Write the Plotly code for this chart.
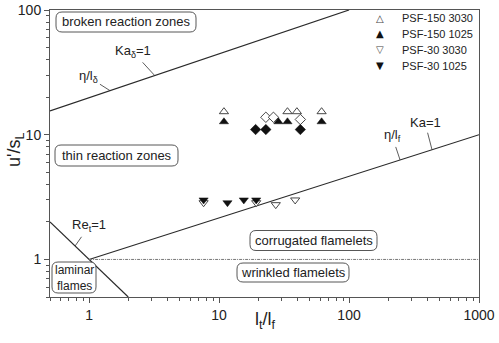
import plotly.graph_objects as go
import numpy as np

# ---------------- data ----------------
psf150_3030_x = [10.9, 33.6, 39.7, 61.5]
psf150_3030_y = [15.3, 15.3, 15.3, 15.3]
psf150_1025_x = [10.9, 28.6, 33.6, 61.5]
psf150_1025_y = [12.7, 12.7, 12.7, 12.7]
psf30_3030_x = [7.6, 19.3, 27.3, 38.5]
psf30_3030_y = [2.85, 2.85, 2.75, 3.0]
psf30_1025_x = [7.6, 11.6, 15.5, 19.3]
psf30_1025_y = [3.0, 2.85, 3.0, 3.0]
open_diamond_x = [22.9, 26.2, 42.2]
open_diamond_y = [13.8, 13.8, 13.25]
filled_diamond_x = [19.1, 22.9, 42.2]
filled_diamond_y = [11.0, 11.0, 11.0]

series_names = ["PSF-150 3030", "PSF-150 1025", "PSF-30 3030", "PSF-30 1025"]
series_glyphs = ["△", "▲", "▽", "▼"]

# regime boundary lines (end points)
ka_x = [1, 1000]
ka_y = [1, 10]
kad_x = [0.5, 100]
kad_y = [15.5, 100]
re_x = [0.5, 2]
re_y = [2, 0.5]
wr_x = [1, 1000]
wr_y = [1, 1]

x_tickvals = [1, 10, 100, 1000]
x_ticktext = ["1", "10", "100", "1000"]
y_tickvals = [1, 10, 100]
y_ticktext = ["1", "10", "100"]

FONT = "Liberation Sans, Arial, sans-serif"
INK = "#222222"
AX = "#555555"

def on_line(lx, ly, x):
    lx = np.log10(lx); ly = np.log10(ly)
    t = (np.log10(x) - lx[0]) / (lx[1] - lx[0])
    return ly[0] + t * (ly[1] - ly[0])

fig = go.Figure()

line_style = dict(color="#2a2a2a", width=1.2)
fig.add_trace(go.Scatter(x=ka_x, y=ka_y, mode="lines", line=line_style, showlegend=False, hoverinfo="skip"))
fig.add_trace(go.Scatter(x=kad_x, y=kad_y, mode="lines", line=line_style, showlegend=False, hoverinfo="skip"))
fig.add_trace(go.Scatter(x=re_x, y=re_y, mode="lines", line=line_style, showlegend=False, hoverinfo="skip"))
fig.add_trace(go.Scatter(x=wr_x, y=wr_y, mode="lines",
                         line=dict(color="#777777", width=1, dash="3px,1px,1px,1px"),
                         showlegend=False, hoverinfo="skip"))

ms = 8
open_m = lambda sym: dict(symbol=sym, size=ms, color="white", line=dict(color="#333333", width=0.9))
fill_m = lambda sym: dict(symbol=sym, size=ms, color="#111111", line=dict(color="#111111", width=0.5))

fig.add_trace(go.Scatter(x=psf30_3030_x, y=psf30_3030_y, mode="markers", marker=open_m("triangle-down"),
                         name=series_names[2], showlegend=False))
fig.add_trace(go.Scatter(x=psf30_1025_x, y=psf30_1025_y, mode="markers", marker=fill_m("triangle-down"),
                         name=series_names[3], showlegend=False))
fig.add_trace(go.Scatter(x=open_diamond_x, y=open_diamond_y, mode="markers", marker=open_m("diamond"),
                         showlegend=False))
fig.add_trace(go.Scatter(x=filled_diamond_x, y=filled_diamond_y, mode="markers", marker=fill_m("diamond"),
                         showlegend=False))
fig.add_trace(go.Scatter(x=psf150_3030_x, y=psf150_3030_y, mode="markers", marker=open_m("triangle-up"),
                         name=series_names[0], showlegend=False))
fig.add_trace(go.Scatter(x=psf150_1025_x, y=psf150_1025_y, mode="markers", marker=fill_m("triangle-up"),
                         name=series_names[1], showlegend=False))

# ---------- plot-area geometry (pixels) ----------
W, H = 499, 343
L, R, T, B = 50, 20, 10, 46
pw, ph = W - L - R, H - T - B

def px2paper(X, Y):
    return (X - L) / pw, (H - B - Y) / ph

# regime label boxes: (text, center X, center Y, width, height)
boxes = [
    ("broken reaction zones", 126, 22, 140, 20),
    ("thin reaction zones", 116.5, 155.5, 123, 21),
    ("laminar<br>flames", 74, 277.5, 44, 31),
    ("corrugated flamelets", 313.5, 240.5, 127, 20),
    ("wrinkled flamelets", 293, 272.5, 112, 19),
]
shapes = []
annotations = []
for txt, cx, cy, w, h in boxes:
    ax_, ay_ = px2paper(cx, cy)
    r = 6
    a, b = w / 2, h / 2
    path = (f"M {-a+r},{-b} L {a-r},{-b} Q {a},{-b} {a},{-b+r} L {a},{b-r} Q {a},{b} {a-r},{b} "
            f"L {-a+r},{b} Q {-a},{b} {-a},{b-r} L {-a},{-b+r} Q {-a},{-b} {-a+r},{-b} Z")
    shapes.append(dict(type="path", xref="paper", yref="paper", xsizemode="pixel", ysizemode="pixel",
                       xanchor=ax_, yanchor=ay_, path=path,
                       line=dict(color="#444444", width=0.9), fillcolor="white", layer="above"))
    annotations.append(dict(text=txt, x=ax_, y=ay_, xref="paper", yref="paper", showarrow=False,
                            font=dict(family=FONT, size=13 if "<br>" not in txt else 12, color=INK),
                            xanchor="center", yanchor="middle"))

# line labels with leader lines: (text, x on line, line, dx, dy)
leaders = [
    ("η/l<sub>δ</sub>", 1.45, (kad_x, kad_y), -22, -14),
    ("Ka<sub>δ</sub>=1", 3.2, (kad_x, kad_y), -22, -24),
    ("η/l<sub>f</sub>", 247, (ka_x, ka_y), -8, -24),
    ("Ka=1", 435, (ka_x, ka_y), -7, -27),
    ("Re<sub>t</sub>=1", 0.78, (re_x, re_y), 14, -20),
]
for txt, xv, (lx, ly), dx, dy in leaders:
    annotations.append(dict(text=txt, x=np.log10(xv), y=on_line(lx, ly, xv), xref="x", yref="y",
                            showarrow=True, arrowhead=0, arrowwidth=0.8, arrowcolor="#333333",
                            ax=dx, ay=dy, standoff=0, startstandoff=1,
                            font=dict(family=FONT, size=13, color=INK)))

# legend (symbol + name rows)
glyph_colors = ["#444444", "#111111", "#444444", "#111111"]
for i, (g, name) in enumerate(zip(series_glyphs, series_names)):
    yrow = 18 + 16 * i
    gx, gy = px2paper(380, yrow)
    tx, ty = px2paper(400, yrow)
    annotations.append(dict(text=g, x=gx, y=gy, xref="paper", yref="paper", showarrow=False,
                            xanchor="center", yanchor="middle",
                            font=dict(family="DejaVu Sans", size=10, color=glyph_colors[i])))
    annotations.append(dict(text=name, x=tx, y=ty, xref="paper", yref="paper", showarrow=False,
                            xanchor="left", yanchor="middle",
                            font=dict(family=FONT, size=11, color=INK)))

# axis titles
xt_x, xt_y = px2paper(265, 320)
annotations.append(dict(text="l<sub>t</sub>/l<sub>f</sub>", x=xt_x, y=xt_y, xref="paper", yref="paper",
                        showarrow=False, xanchor="center", yanchor="middle",
                        font=dict(family=FONT, size=18, color=INK)))
yt_x, yt_y = px2paper(15, 150)
annotations.append(dict(text="u'/s<sub>L</sub>", x=yt_x, y=yt_y, xref="paper", yref="paper",
                        showarrow=False, xanchor="center", yanchor="middle", textangle=-90,
                        font=dict(family=FONT, size=18, color=INK)))

minor_x = [m * 10 ** e for e in range(-1, 3) for m in range(2, 10) if 0.5 <= m * 10 ** e <= 1000]
minor_y = [m * 10 ** e for e in range(-1, 2) for m in range(2, 10) if 0.5 <= m * 10 ** e <= 100]

fig.update_layout(
    width=W, height=H,
    margin=dict(l=L, r=R, t=T, b=B, autoexpand=False),
    paper_bgcolor="white", plot_bgcolor="white",
    font=dict(family=FONT, color=INK),
    shapes=shapes, annotations=annotations,
    showlegend=False,
    xaxis=dict(type="log", range=[np.log10(0.5), 3], tickvals=x_tickvals, ticktext=x_ticktext,
               ticks="outside", ticklen=5, tickcolor=AX, showline=True, linecolor=AX, linewidth=1,
               mirror=True, showgrid=False, zeroline=False, automargin=False,
               tickfont=dict(size=14, family=FONT, color=INK),
               minor=dict(tickvals=minor_x, ticks="outside", ticklen=3, tickcolor=AX, showgrid=False)),
    yaxis=dict(type="log", range=[np.log10(0.5), 2], tickvals=y_tickvals, ticktext=y_ticktext,
               ticks="outside", ticklen=5, tickcolor=AX, showline=True, linecolor=AX, linewidth=1,
               mirror=True, showgrid=False, zeroline=False, automargin=False,
               tickfont=dict(size=14, family=FONT, color=INK),
               minor=dict(tickvals=minor_y, ticks="outside", ticklen=3, tickcolor=AX, showgrid=False)),
)

fig.write_html("out.html")
